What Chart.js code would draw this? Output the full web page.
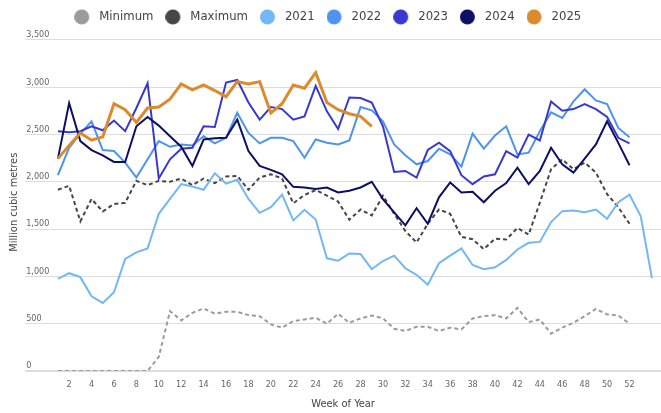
<!DOCTYPE html>
<html><head><meta charset="utf-8">
<script src="https://cdn.jsdelivr.net/npm/chart.js@4"></script>
<style>html,body{margin:0;padding:0;background:#fff}</style>
</head><body>
<canvas id="c" width="661" height="413"></canvas>
<script>
const weeks = [1,2,3,4,5,6,7,8,9,10,11,12,13,14,15,16,17,18,19,20,21,22,23,24,25,26,27,28,29,30,31,32,33,34,35,36,37,38,39,40,41,42,43,44,45,46,47,48,49,50,51,52,53,54];
const xTickLabels = [2,4,6,8,10,12,14,16,18,20,22,24,26,28,30,32,34,36,38,40,42,44,46,48,50,52];
const yTicks = [0,500,1000,1500,2000,2500,3000,3500];

const minimum = [0,0,0,0,0,0,0,0,0,150,633,535,615,661,605,626,626,591,580,493,458,528,545,563,500,605,510,556,587,556,447,423,468,468,423,458,440,556,580,591,556,668,517,545,395,458,510,580,657,598,587,500];
const maximum = [1916,1958,1582,1819,1686,1766,1777,2010,1965,2010,2000,2035,1965,2035,1986,2056,2063,1916,2045,2080,2035,1773,1861,1913,1854,1791,1599,1707,1644,1854,1662,1480,1358,1557,1707,1662,1418,1393,1289,1400,1390,1512,1442,1780,2133,2238,2133,2203,2098,1870,1731,1556];
const y2021 = [975,1034,992,790,720,832,1184,1254,1296,1662,1819,1976,1951,1916,2091,1980,2021,1819,1672,1731,1864,1592,1704,1602,1191,1167,1243,1236,1076,1163,1219,1086,1017,912,1139,1219,1296,1121,1076,1097,1174,1285,1355,1365,1575,1690,1697,1679,1707,1609,1784,1864,1637,982];
const y2022 = [2070,2360,2510,2640,2336,2325,2203,2045,2238,2430,2370,2395,2385,2482,2406,2465,2730,2517,2406,2465,2465,2430,2255,2448,2413,2395,2437,2790,2755,2640,2395,2280,2185,2220,2350,2290,2161,2510,2350,2489,2587,2290,2308,2535,2734,2675,2850,2979,2860,2822,2570,2472];
const y2023 = [2535,2524,2535,2587,2545,2647,2535,2780,3042,2035,2238,2350,2360,2587,2580,3049,3077,2839,2657,2790,2769,2657,2692,3014,2745,2559,2892,2885,2839,2587,2105,2115,2045,2336,2413,2325,2070,1975,2056,2080,2325,2255,2500,2437,2850,2752,2769,2822,2769,2685,2465,2406];
const y2024 = [2245,2832,2430,2336,2280,2210,2210,2587,2685,2594,2482,2371,2168,2447,2461,2465,2657,2325,2168,2126,2080,1947,1940,1923,1940,1888,1905,1940,2000,1818,1678,1540,1721,1557,1836,1993,1888,1895,1784,1906,1986,2150,1976,2115,2360,2185,2098,2245,2395,2640,2412,2175];
const y2025 = [2245,2385,2517,2440,2475,2825,2762,2629,2780,2790,2874,3035,2972,3024,2965,2900,3059,3035,3059,2727,2825,3024,2990,3154,2839,2762,2720,2692,2587];

const seriesNames = ['Minimum','Maximum','2021','2022','2023','2024','2025'];
const seriesValues = [minimum, maximum, y2021, y2022, y2023, y2024, y2025];
const colors = ['#9b9b9b','#464646','#72b7f6','#4d94ee','#3838d2','#0c1064','#dc8a2c'];
const FONT = "'DejaVu Sans Condensed','Liberation Sans Narrow',sans-serif";

// legend marker images: a filled circle drawn left of the box centre
function markerFor(color) {
  const c = document.createElement('canvas');
  c.width = 24; c.height = 16;
  const g = c.getContext('2d');
  g.fillStyle = color;
  g.beginPath();
  g.arc(7.5, 8, 7.5, 0, Math.PI * 2);
  g.fill();
  return c;
}
const markers = colors.map(markerFor);

const datasets = seriesNames.map((name, k) => ({
  label: name,
  data: seriesValues[k].map((v, i) => ({x: weeks[i], y: v})),
  borderColor: colors[k],
  backgroundColor: colors[k],
  borderWidth: k === 6 ? 3 : 2,
  borderDash: k < 2 ? [4, 3] : [],
  pointRadius: 0,
  pointHoverRadius: 0,
  tension: 0,
  fill: false,
  order: 6 - k
}));

new Chart(document.getElementById('c'), {
  type: 'line',
  data: { datasets },
  options: {
    responsive: false,
    animation: false,
    devicePixelRatio: 1,
    layout: { padding: { top: -7, left: 0, right: 0, bottom: 0 } },
    plugins: {
      legend: {
        position: 'top',
        labels: {
          usePointStyle: true,
          boxWidth: 13,
          boxHeight: 13,
          padding: 17.4,
          color: '#444',
          font: { family: FONT, size: 13 },
          sort: (a, b) => a.datasetIndex - b.datasetIndex,
          generateLabels: chart => Chart.defaults.plugins.legend.labels.generateLabels(chart)
            .map(l => Object.assign(l, { lineDash: [], lineWidth: 0, pointStyle: markers[l.datasetIndex] }))
        }
      },
      tooltip: { enabled: false }
    },
    scales: {
      x: {
        type: 'linear',
        min: -1.92,
        max: 54.81,
        afterBuildTicks: s => { s.ticks = xTickLabels.map(v => ({ value: v })); },
        grid: { display: false, drawTicks: false },
        border: { display: false },
        ticks: { color: '#666', font: { family: FONT, size: 9 }, padding: 8, maxRotation: 0, autoSkip: false },
        title: { display: true, text: 'Week of Year', color: '#444', font: { family: FONT, size: 11 }, padding: { top: 0, bottom: 2 } }
      },
      y: {
        min: 0,
        max: 3569,
        afterBuildTicks: s => { s.ticks = yTicks.map(v => ({ value: v })); },
        grid: { color: '#dddddd', drawTicks: false, lineWidth: c => (c.tick && c.tick.value === 0) ? 2 : 1 },
        border: { display: false },
        ticks: { mirror: true, labelOffset: -5, padding: 1, color: '#666', font: { family: FONT, size: 9 },
          callback: v => Number(v).toLocaleString('en-US') },
        title: { display: true, text: 'Million cubic metres', color: '#444', font: { family: FONT, size: 11 }, padding: { top: 8, bottom: 2 } }
      }
    }
  }
});
</script>
</body></html>
